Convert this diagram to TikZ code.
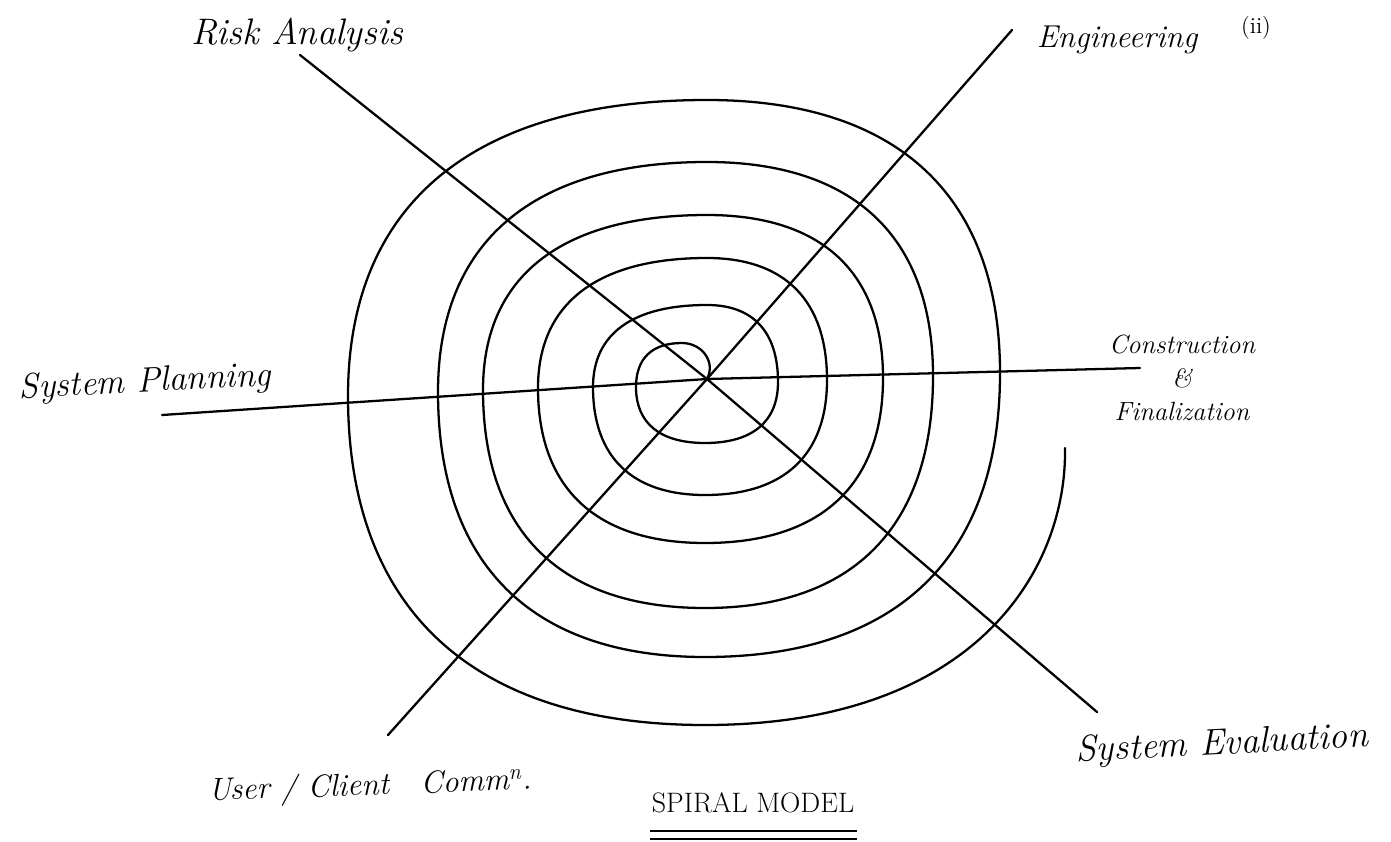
\documentclass[tikz,border=0pt]{standalone}
\usetikzlibrary{calc}
\newcommand\spH[2]{.. controls ($(#1)!0.65!(#2|-#1)$) and ($(#2)!0.65!(#2|-#1)$) .. (#2)}
\newcommand\spV[2]{.. controls ($(#1)!0.65!(#1|-#2)$) and ($(#2)!0.65!(#1|-#2)$) .. (#2)}
\begin{document}
\begin{tikzpicture}[x=0.02cm,y=-0.02cm,
  spiral/.style={line width=1.3pt, line join=round, line cap=round},
  axis/.style={line width=1.3pt, line cap=round},
  lbl/.style={inner sep=0pt, font=\itshape\fontsize{21}{25}\selectfont}]
\fill[white] (0,0) rectangle (1391,841);
\useasboundingbox (0,0) rectangle (1391,841);
% spiral points
\coordinate (C) at (707,379);
\coordinate (T1) at (682,343); \coordinate (L1) at (636,387); \coordinate (B1) at (705,443); \coordinate (R1) at (778,382);
\coordinate (T2) at (707,305); \coordinate (L2) at (593,387); \coordinate (B2) at (705,495); \coordinate (R2) at (827,380);
\coordinate (T3) at (707,258); \coordinate (L3) at (538,388); \coordinate (B3) at (705,543); \coordinate (R3) at (883,378);
\coordinate (T4) at (707,215); \coordinate (L4) at (483,390); \coordinate (B4) at (705,608); \coordinate (R4) at (933,376);
\coordinate (T5) at (707,162); \coordinate (L5) at (438,392); \coordinate (B5) at (705,657); \coordinate (R5) at (1000,373);
\coordinate (T6) at (707,100); \coordinate (L6) at (348,396); \coordinate (B6) at (705,725); \coordinate (E) at (1065,448);
\draw[spiral] (C) .. controls (716,362) and (702,343) .. (T1)
  \spH{T1}{L1} \spV{L1}{B1} \spH{B1}{R1} \spV{R1}{T2}
  \spH{T2}{L2} \spV{L2}{B2} \spH{B2}{R2} \spV{R2}{T3}
  \spH{T3}{L3} \spV{L3}{B3} \spH{B3}{R3} \spV{R3}{T4}
  \spH{T4}{L4} \spV{L4}{B4} \spH{B4}{R4} \spV{R4}{T5}
  \spH{T5}{L5} \spV{L5}{B5} \spH{B5}{R5} \spV{R5}{T6}
  \spH{T6}{L6} \spV{L6}{B6}
  .. controls (975,725) and (1067,570) .. (E);
% axis end points
\coordinate (pSP) at (162,415);
\coordinate (pCF) at (1140,368);
\coordinate (pRA) at (300,55);
\coordinate (pSE) at (1097,712);
\coordinate (pEN) at (1012,30);
\coordinate (pUC) at (388,735);
\draw[axis] (pSP) -- (C) -- (pCF);
\draw[axis] (pRA) -- (C) -- (pSE);
\draw[axis] (pEN) -- (C) -- (pUC);
% labels
\node[lbl] (ra) at (297,35) {Risk Analysis};
\node[lbl, font=\itshape\fontsize{18}{22}\selectfont] (en) at (1117,40) {Engineering};
\node[inner sep=0pt, font=\fontsize{13}{15}\selectfont] (ii) at (1256,28) {(ii)};
\node[lbl, font=\itshape\fontsize{20}{24}\selectfont, rotate=3] (sp) at (145,383) {System Planning};
\node[lbl, font=\itshape\fontsize{15}{19}\selectfont, align=center] (cf) at (1182,378) {Construction\\ \&\\ Finalization};
\node[lbl, rotate=3] (se) at (1222,745) {System Evaluation};
\node[lbl, font=\itshape\fontsize{18}{22}\selectfont, rotate=2] (uc) at (370,787) {User / Client\hspace{18pt}Comm\textsuperscript{n}.};
\node[inner sep=0pt, font=\fontsize{16}{19}\selectfont] (sm) at (753,803) {SPIRAL MODEL};
\coordinate (u1a) at (650,831); \coordinate (u1b) at (857,831);
\coordinate (u2a) at (650,839); \coordinate (u2b) at (857,839);
\draw[line width=1.1pt] (u1a) -- (u1b);
\draw[line width=1.1pt] (u2a) -- (u2b);
\end{tikzpicture}
\end{document}
